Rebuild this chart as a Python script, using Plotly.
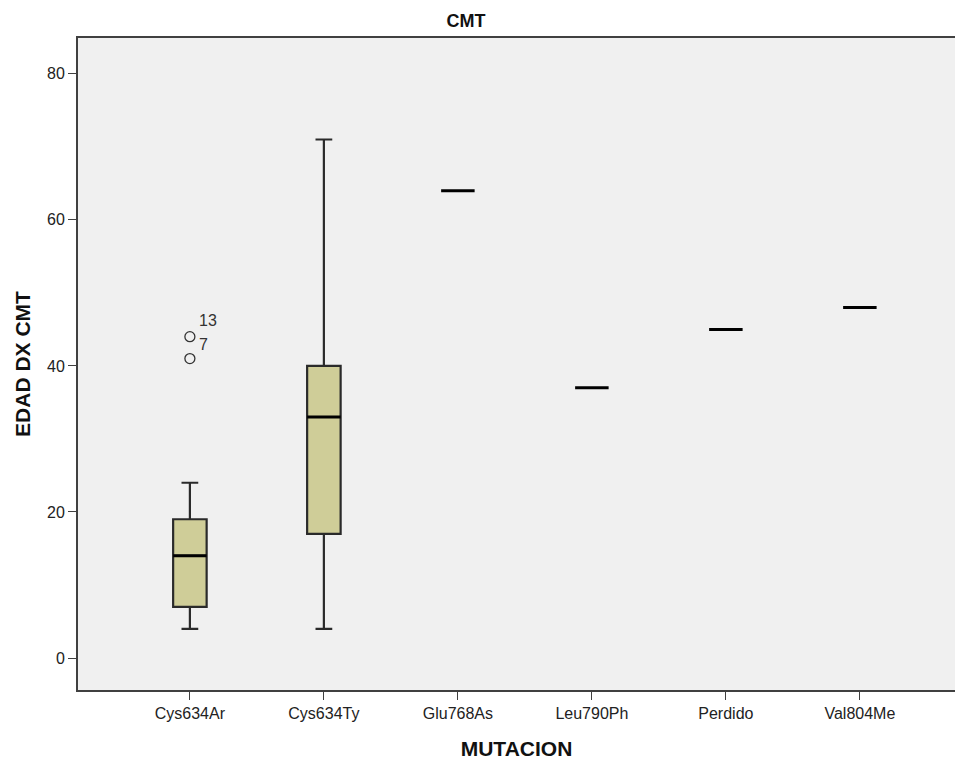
import plotly.graph_objects as go

# Mutation groups and age at CMT diagnosis summaries
categories = ["Cys634Ar", "Cys634Ty", "Glu768As", "Leu790Ph", "Perdido", "Val804Me"]

# Groups with a full box (index into categories)
box_idx = [0, 1]
box_lower = [4, 4]
box_q1 = [7, 17]
box_median = [14, 33]
box_q3 = [19, 40]
box_upper = [24, 71]

# Groups with a single observation
single_idx = [2, 3, 4, 5]
single_values = [64, 37, 45, 48]

# Outliers in Cys634Ar with case numbers
outlier_idx = [0, 0]
outlier_values = [44, 41]
outlier_cases = ["13", "7"]

FONT = "Liberation Sans, Arial, sans-serif"
BOX_W = 0.25
fig = go.Figure()

for i, lo, a, m, b, hi in zip(box_idx, box_lower, box_q1, box_median, box_q3, box_upper):
    fig.add_trace(go.Box(
        x=[i], lowerfence=[lo], q1=[a], median=[m], q3=[b], upperfence=[hi],
        width=BOX_W, whiskerwidth=0.5,
        fillcolor="#cfcd98", line=dict(color="#2a2a2a", width=2.2),
        showlegend=False, hoverinfo="skip",
    ))
    # heavy median bar
    fig.add_trace(go.Scatter(
        x=[i - BOX_W / 2, i + BOX_W / 2], y=[m, m], mode="lines",
        line=dict(color="black", width=3), showlegend=False, hoverinfo="skip",
    ))

for i, v in zip(single_idx, single_values):
    fig.add_trace(go.Scatter(
        x=[i - BOX_W / 2, i + BOX_W / 2], y=[v, v], mode="lines",
        line=dict(color="black", width=3), showlegend=False, hoverinfo="skip",
    ))

fig.add_trace(go.Scatter(
    x=outlier_idx, y=outlier_values, mode="markers",
    marker=dict(symbol="circle-open", size=10, color="#333333", line=dict(width=1.3)),
    showlegend=False, hoverinfo="skip",
))
for i, v, c in zip(outlier_idx, outlier_values, outlier_cases):
    fig.add_annotation(
        x=i, y=v, text=c, showarrow=False, xanchor="left", yanchor="middle",
        xshift=7, yshift=16 if c == "13" else 14,
        font=dict(family=FONT, size=16, color="#333333"),
    )

fig.update_layout(
    width=955, height=761,
    margin=dict(l=78, r=0, t=38, b=71),
    paper_bgcolor="white", plot_bgcolor="#f0f0f0",
    title=dict(text="<b>CMT</b>", x=(466 - 78) / (955 - 78), xanchor="center",
               xref="paper", y=1 - 21 / 761, yanchor="middle",
               font=dict(family=FONT, size=18, color="#111111")),
    font=dict(family=FONT, size=16, color="#222222"),
)
fig.update_xaxes(
    range=[-0.835, 5.71], tickvals=list(range(len(categories))), ticktext=categories,
    showgrid=False, zeroline=False,
    showline=True, linecolor="#404040", linewidth=2, mirror=True,
    ticks="outside", ticklen=8, tickcolor="#404040", tickwidth=1.3,
    tickfont=dict(family=FONT, size=16, color="#222222"),
    title=dict(text="<b>MUTACION</b>", font=dict(family=FONT, size=21, color="#111111"), standoff=20),
)
fig.update_yaxes(
    range=[-4.38, 84.9], tickvals=[0, 20, 40, 60, 80],
    showgrid=False, zeroline=False,
    showline=True, linecolor="#404040", linewidth=2,
    ticks="outside", ticklen=8, tickcolor="#404040", tickwidth=1.3,
    tickfont=dict(family=FONT, size=16, color="#222222"),
    title=dict(text="<b>EDAD DX CMT</b>", font=dict(family=FONT, size=21, color="#111111"), standoff=11),
)

fig.write_html("out.html")
